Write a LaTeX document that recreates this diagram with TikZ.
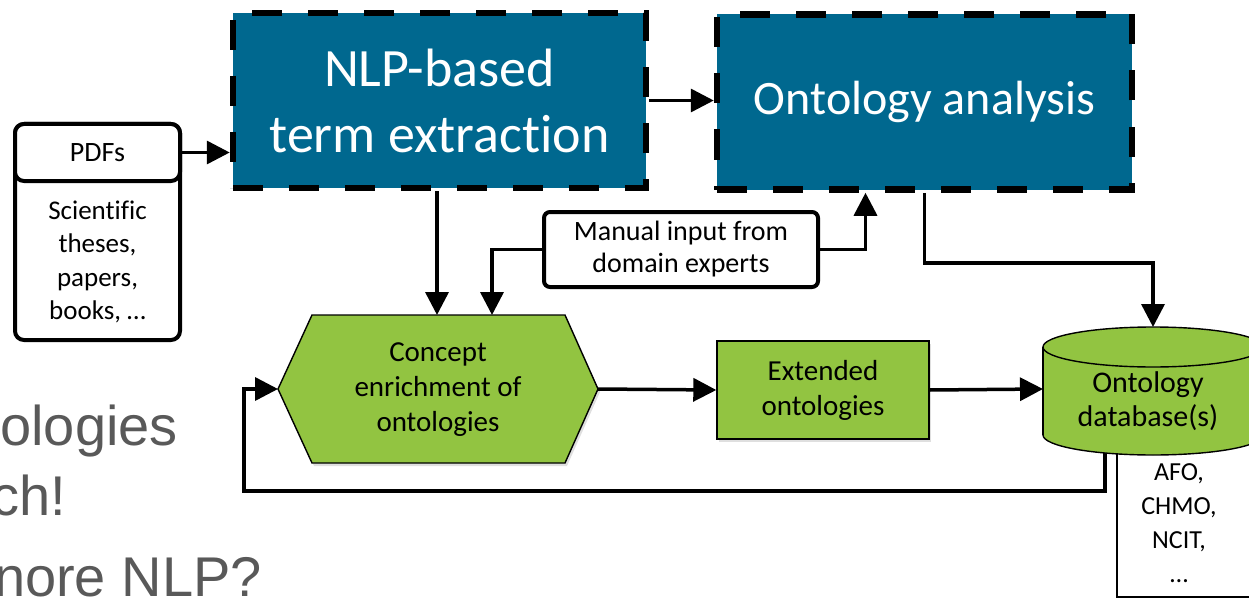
\documentclass[tikz,border=0pt]{standalone}
\usepackage{fontspec}
\setmainfont{Carlito}[Ligatures=NoCommon]
\newfontfamily\grayfont{Liberation Sans}
\usetikzlibrary{arrows.meta,shadows}
\definecolor{nlpblue}{RGB}{0,104,143}
\definecolor{leaf}{RGB}{146,196,65}
\definecolor{slidegray}{RGB}{89,89,89}
\begin{document}
\begin{tikzpicture}[x=1pt,y=-1pt,
  conn/.style={line width=3.5pt,-{Triangle[length=23pt,width=23pt]}},
  bluebox/.style={draw=black,fill=nlpblue,line width=6.5pt,dash pattern=on 30pt off 26pt,
    text=white,minimum height=175pt,align=center,inner sep=0pt},
  roundbox/.style={draw=black,fill=white,line width=4pt,rounded corners=9pt,inner sep=0pt},
  greenshape/.style={draw=black,fill=leaf,line width=1.4pt,
    drop shadow={opacity=0.25,shadow xshift=2pt,shadow yshift=-3pt}},
  bodytext/.style={align=center,inner sep=0pt,font=\fontsize{28}{34}\selectfont},
  slidetext/.style={anchor=base east,inner sep=0pt,text=slidegray,font=\grayfont\fontsize{56}{60}\selectfont}
]
\useasboundingbox (0,0) rectangle (1249,599);
\clip (0,0) rectangle (1249,599);

% background slide text
\node[slidetext] (s1) at (178,445) {ologies};
\node[slidetext] (s2) at (66,515) {ch!};
\node[slidetext] (s3) at (262,596) {nore NLP?};

% PDFs box
\node[roundbox,minimum width=165pt,minimum height=216pt] (pdf) at (97.5,232) {};
\node[roundbox,minimum width=165pt,minimum height=57pt,font=\fontsize{28}{32}\selectfont] (pdfhead) at (97.5,152.5) {PDFs};
\node[bodytext,font=\fontsize{27}{33.5}\selectfont] (pdftext) at (97.5,262) {Scientific\\theses,\\papers,\\books, …};

% blue boxes
\node[bluebox,minimum width=413pt,font=\fontsize{54}{66}\selectfont] (nlp) at (439.5,100.5) {NLP-based\\term extraction};
\node[bluebox,minimum width=415pt,font=\fontsize{48}{56}\selectfont] (oa) at (924.5,102) {Ontology analysis};

% manual input
\node[roundbox,minimum width=274pt,minimum height=75pt,rounded corners=6pt,bodytext,font=\fontsize{28}{32}\selectfont] (manual) at (681,249.5) {Manual input from\\domain experts};

% AFO box (behind cylinder)
\node[draw=black,fill=white,line width=2pt,minimum width=170pt,minimum height=160pt,inner sep=0pt] (afobox) at (1202,517) {};
\node[bodytext,font=\fontsize{26}{34}\selectfont] (afo) at (1179,523) {AFO,\\CHMO,\\NCIT,\\…};

% feedback loop (starts under cylinder)
\coordinate (fbStart) at (1105,450);
\coordinate (hexW) at (278,389);
\draw[conn] (fbStart) -- ++(0,41) -| ([xshift=-34pt]hexW) -- (hexW);

% cylinder
\fill[leaf] (1043,347) rectangle (1263,435);
\fill[leaf] (1153,435) ellipse [x radius=110, y radius=20];
\draw[line width=1.4pt,fill=leaf] (1153,347) ellipse [x radius=110, y radius=20];
\draw[line width=1.4pt] (1043,347) -- (1043,435);
\begin{scope}
  \clip (1000,435) rectangle (1300,520);
  \draw[line width=1.4pt] (1153,435) ellipse [x radius=110, y radius=20];
\end{scope}
\coordinate (cylTop) at (1153,327);
\coordinate (cylW) at (1043,389);
\node[bodytext,font=\fontsize{30}{34}\selectfont] (cyl) at (1148,401) {Ontology\\database(s)};

% hexagon
\draw[greenshape] (hexW) -- (312,315) -- (565,315) -- (598,389) coordinate (hexE) -- (565,463) -- (312,463) -- cycle;
\coordinate (hexN1) at (437,315);
\coordinate (hexN2) at (492,315);
\node[bodytext,font=\fontsize{29}{35}\selectfont] (hex) at (438,390) {Concept\\enrichment of\\ontologies};

% extended ontologies
\node[greenshape,minimum width=212pt,minimum height=98pt,bodytext,font=\fontsize{29}{35}\selectfont] (ext) at (823,390) {Extended\\ontologies};

% connectors
\draw[conn] (pdfhead.east) -- (pdfhead.east -| nlp.west);
\draw[conn] (nlp.east) -- (oa.west |- nlp.east);
\draw[conn] (nlp.south -| hexN1) -- (hexN1);
\draw[conn] (manual.west) -| (hexN2);
\path (oa.south) ++(-59,0) coordinate (oaIn);
\draw[conn] (manual.east) -| (oaIn);
\draw[conn] (oa.south) -- ++(0,70) -| (cylTop);
\draw[conn] (hexE) -- (ext.west);
\draw[conn] (ext.east) -- (cylW);
\end{tikzpicture}
\end{document}
